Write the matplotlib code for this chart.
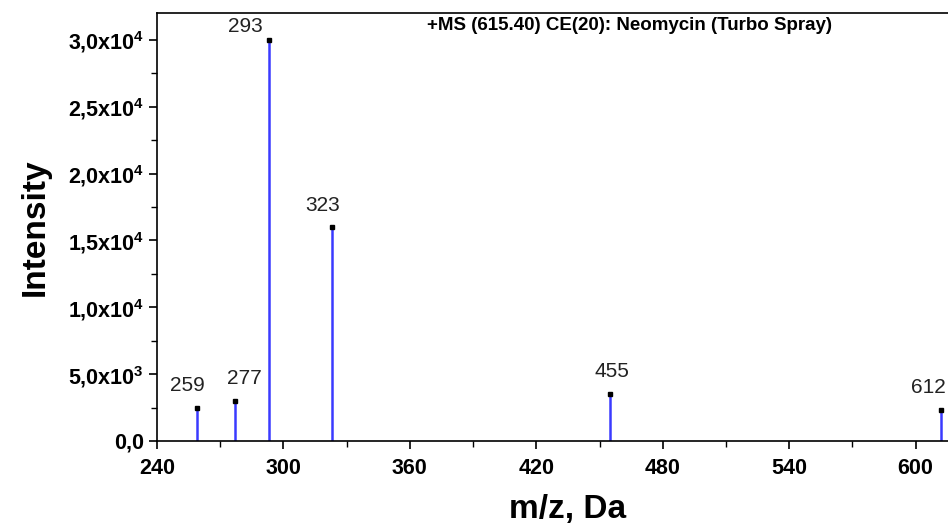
import matplotlib
matplotlib.use("Agg")
import matplotlib.pyplot as plt
from matplotlib.ticker import MultipleLocator, FuncFormatter

plt.rcParams['font.family'] = ['Liberation Sans', 'DejaVu Sans']
plt.rcParams['mathtext.default'] = 'regular'

# peak m/z and intensities
mz = [259, 277, 293, 323, 455, 612]
intensity = [2500, 3000, 30000, 16000, 3550, 2350]
peak_labels = ['259', '277', '293', '323', '455', '612']

fig = plt.figure(figsize=(9.48, 5.31), dpi=100)
ax = fig.add_axes([0.1656, 0.1695, 0.867, 0.806])

ax.vlines(mz, 0, intensity, color='#3a3aff', linewidth=1.8, zorder=2)
ax.plot(mz, intensity, 's', color='black', markersize=3, zorder=3)

# label nudges (points), as placed in the original spectrum export
label_dx = [-7, 7, -17, -7, 1, -9]
for x, y, lab, dx in zip(mz, intensity, peak_labels, label_dx):
    dy = 3 if y > 29000 else 9
    ax.annotate(lab, (x, y), xytext=(dx, dy), textcoords='offset points',
                ha='center', va='bottom', fontsize=15, color='#222222')

ax.set_xlim(240, 630)
ax.set_ylim(0, 32000)
ax.xaxis.set_major_locator(MultipleLocator(60))
ax.xaxis.set_minor_locator(MultipleLocator(30))
ax.yaxis.set_major_locator(MultipleLocator(5000))
ax.yaxis.set_minor_locator(MultipleLocator(2500))


def yfmt(v, pos):
    if v == 0:
        return '0,0'
    if v >= 10000:
        s = '%.1f' % (v / 10000) + 'x10$^{4}$'
    else:
        s = '%.1f' % (v / 1000) + 'x10$^{3}$'
    return s.replace('.', ',')


ax.yaxis.set_major_formatter(FuncFormatter(yfmt))
ax.tick_params(axis='both', which='major', direction='out', length=6, width=1.2,
               labelsize=15.5)
ax.tick_params(axis='x', which='major', pad=6)
ax.tick_params(axis='both', which='minor', direction='out', length=4, width=1.0)
for lab in ax.get_xticklabels() + ax.get_yticklabels():
    lab.set_fontweight('bold')
for s in ax.spines.values():
    s.set_linewidth(1.2)

ax.set_xlabel('m/z, Da', fontsize=24, fontweight='bold', labelpad=11)
ax.set_ylabel('Intensity', fontsize=24, fontweight='bold', labelpad=12)
ax.text(0.575, 0.99, '+MS (615.40) CE(20): Neomycin (Turbo Spray)', transform=ax.transAxes,
        ha='center', va='top', fontsize=13.5, fontweight='bold')

fig.savefig('out.png', dpi=100)
